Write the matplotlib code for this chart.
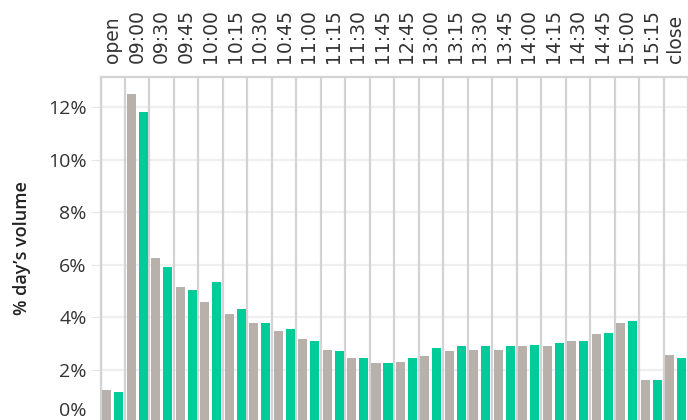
import numpy as np
import matplotlib
matplotlib.use("Agg")
import matplotlib.pyplot as plt

slots = ["open", "09:00", "09:30", "09:45", "10:00", "10:15", "10:30", "10:45",
         "11:00", "11:15", "11:30", "11:45", "12:45", "13:00", "13:15", "13:30",
         "13:45", "14:00", "14:15", "14:30", "14:45", "15:00", "15:15", "close"]
grey_vals = [1.24, 12.50, 6.26, 5.16, 4.59, 4.13, 3.79, 3.48, 3.18, 2.76, 2.46, 2.27,
             2.30, 2.53, 2.72, 2.76, 2.76, 2.91, 2.91, 3.10, 3.37, 3.79, 1.62, 2.57]
green_vals = [1.16, 11.82, 5.92, 5.04, 5.35, 4.32, 3.79, 3.56, 3.10, 2.72, 2.46, 2.27,
              2.46, 2.84, 2.91, 2.91, 2.91, 2.95, 3.03, 3.10, 3.41, 3.86, 1.62, 2.46]
yticks = [2, 4, 6, 8, 10, 12]

GREY = "#b8b0ab"
GREEN = "#00cc99"
LINE = "#d3d3d3"

fig = plt.figure(figsize=(6.88, 4.2), dpi=100)
ax = fig.add_axes([100.5 / 688, 0, 1 - 100.5 / 688, 1 - 77 / 420])

x = np.arange(len(slots))
w = 0.37
ax.bar(x - 0.245, grey_vals, width=w, color=GREY, zorder=3)
ax.bar(x + 0.245, green_vals, width=w, color=GREEN, zorder=3)

ax.set_xlim(-0.5, len(slots) - 0.5)
ax.set_ylim(0.095, 13.15)

# column separators
for k in range(len(slots) + 1):
    ax.axvline(k - 0.5, color=LINE, lw=1.6, zorder=2)

ax.set_yticks(yticks)
ax.set_yticklabels([f"{v}%" for v in yticks], fontsize=14, family="Open Sans", color="#333333")
ax.yaxis.grid(True, color="#efefef", lw=1.6, zorder=1)
ax.tick_params(axis="y", length=7, color="#e6e6e6", pad=3)
# 0% sits below the visible area, so its label is placed by hand
ax.annotate("0%", xy=(0, 0), xycoords=("axes fraction", "data"), xytext=(-10, 8.5),
            textcoords="offset points", ha="right", va="center",
            fontsize=14, family="Open Sans", color="#333333")

ax.xaxis.tick_top()
ax.set_xticks(x)
ax.set_xticklabels(slots, rotation=90, fontsize=13.5, family="DejaVu Sans", color="#333333")
ax.tick_params(axis="x", length=0, pad=10)

for side in ["bottom", "right"]:
    ax.spines[side].set_visible(False)
for side in ["top", "left"]:
    ax.spines[side].set_color(LINE)
    ax.spines[side].set_linewidth(1.6)

fig.text(22 / 688, 1 - 248 / 420, "% day’s volume", rotation=90, ha="center", va="center",
         fontsize=13, family="Open Sans", weight="semibold", color="#222222")

fig.savefig("out.png", dpi=100)
